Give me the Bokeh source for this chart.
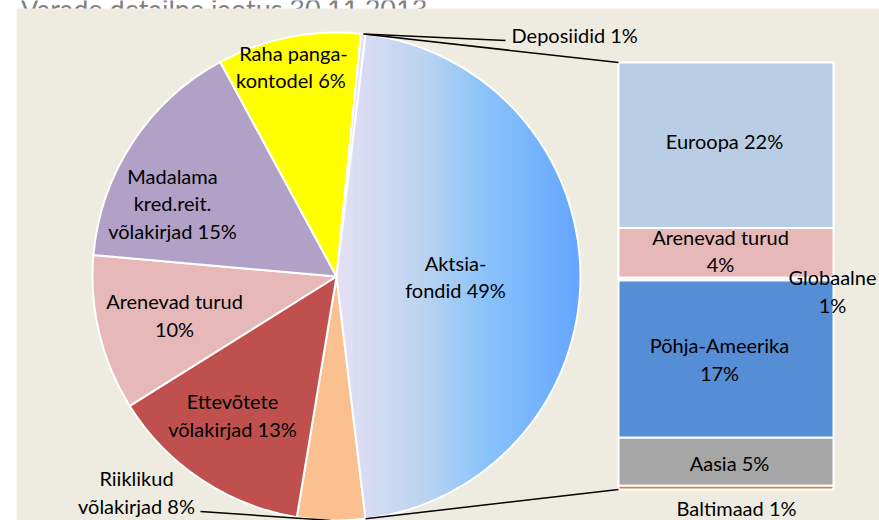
import numpy as np
from bokeh.plotting import figure
from bokeh.models import Range1d, ColumnDataSource
from bokeh.core.properties import value
from bokeh.embed import file_html
from bokeh.resources import INLINE

# ---------------- data ----------------
title_text = "Varade detailne jaotus 30.11.2013"

# main pie, clockwise, starting with the slice that is split into the bar
main_names = ["Aktsiafondid", "Riiklikud võlakirjad", "Ettevõtete võlakirjad",
              "Arenevad turud", "Madalama kred.reit. võlakirjad",
              "Raha pangakontodel", "Deposiidid"]
main_shares = [46.2, 4.5, 13.5, 10.3, 15.7, 9.5, 0.3]   # share of the circle, %
main_labels = ["Aktsia-\nfondid 49%", "Riiklikud\nvõlakirjad 8%",
               "Ettevõtete\nvõlakirjad 13%", "Arenevad turud\n10%",
               "Madalama\nkred.reit.\nvõlakirjad 15%", "Raha panga-\nkontodel  6%",
               "Deposiidid 1%"]
main_colors = ["#9CC8F8", "#FAC090", "#C0504D", "#E6B9B8", "#B2A1C7", "#FFFF00", "#E4DFF3"]

# secondary bar (breakdown of Aktsiafondid), top to bottom
sub_names = ["Euroopa", "Arenevad turud", "Globaalne", "Põhja-Ameerika", "Aasia", "Baltimaad"]
sub_shares = [17.9, 5.4, 0.3, 17.0, 5.2, 0.4]
sub_labels = ["Euroopa 22%", "Arenevad turud\n4%", "Globaalne\n1%",
              "Põhja-Ameerika\n17%", "Aasia 5%", "Baltimaad 1%"]
sub_colors = ["#B9CDE5", "#E6B9B8", "#EEF2F8", "#558ED5", "#A6A6A6", "#D7823E"]

# ---------------- layout ----------------
W, H = 879, 520
CX, CY, R = 336, H - 276, 244          # pie centre / radius
BAR_L, BAR_R, BAR_TOP, BAR_H = 618, 833, H - 62, 427
FONT = "Lato"
FSIZE = "20px"
LH = 1.13
BG = "#EEECE1"

def sy(y):  # screen y -> data y
    return H - y

# label anchors (screen coords)
main_label_pos = [(455, 276), (136, 491.5), (232, 414.5), (174, 314.5),
                  (172, 203), (293, 66), (511, 34)]
sub_label_pos = [(724, 140), (720, 250), (832, 290.5), (719, 358.5),
                 (729, 462), (736, 507)]

p = figure(width=W, height=H, x_range=Range1d(0, W), y_range=Range1d(0, H),
           output_backend="svg", toolbar_location=None, min_border=0,
           margin=(0, 0, 0, 0))
p.axis.visible = False
p.grid.visible = False
p.outline_line_color = None
p.background_fill_color = "white"
p.border_fill_color = "white"

# title (mostly outside the visible slide)
p.text(x=[20], y=[sy(8)], text=[title_text], text_font=value(FONT),
       text_font_size="27px", text_color="#7F7F7F", text_baseline="alphabetic")

# slide background
p.quad(left=[16], right=[W], bottom=[0], top=[sy(8)], fill_color=BG, line_color=None)

# ---------------- pie ----------------
shares = np.array(main_shares, dtype=float)
deg = shares / shares.sum() * 360.0
theta_start = 90.0 - deg[0] / 2.0
ts = theta_start + np.concatenate([[0], np.cumsum(deg)[:-1]])   # clockwise from 12 o'clock
te = ts + deg
start_ang = np.radians(90.0 - te)
end_ang = np.radians(90.0 - ts)

src = ColumnDataSource(dict(start=start_ang[1:], end=end_ang[1:], color=main_colors[1:]))
p.wedge(x=CX, y=CY, radius=R, start_angle="start", end_angle="end",
        fill_color="color", line_color="white", line_width=2, source=src)

# gradient-filled first slice, made of vertical strips
a = np.linspace(start_ang[0], end_ang[0], 240)
poly = [(CX, CY)] + [(CX + R * np.cos(t), CY + R * np.sin(t)) for t in a]

def clip(poly, x0, keep_right):
    out = []
    n = len(poly)
    for i in range(n):
        p0, p1 = poly[i], poly[(i + 1) % n]
        in0 = p0[0] >= x0 if keep_right else p0[0] <= x0
        in1 = p1[0] >= x0 if keep_right else p1[0] <= x0
        if in0:
            out.append(p0)
        if in0 != in1:
            t = (x0 - p0[0]) / (p1[0] - p0[0])
            out.append((x0, p0[1] + t * (p1[1] - p0[1])))
    return out

stops_t = [0.0, 0.35, 0.6, 1.0]
stops_c = np.array([[230, 224, 244], [188, 212, 240], [140, 196, 250], [100, 166, 255]])
xmin = min(pt[0] for pt in poly)
xmax = max(pt[0] for pt in poly)
nstrip = 90
edges = np.linspace(xmin, xmax, nstrip + 1)
xs, ys, cols = [], [], []
for i in range(nstrip):
    q = clip(clip(poly, edges[i], True), edges[i + 1], False)
    if len(q) < 3:
        continue
    t = (edges[i] + edges[i + 1]) / 2
    t = (t - xmin) / (xmax - xmin)
    c = [int(round(np.interp(t, stops_t, stops_c[:, k]))) for k in range(3)]
    xs.append([pt[0] for pt in q])
    ys.append([pt[1] for pt in q])
    cols.append("#%02x%02x%02x" % tuple(c))
p.patches(xs=xs, ys=ys, fill_color=cols, line_color=cols, line_width=1)
p.wedge(x=CX, y=CY, radius=R, start_angle=start_ang[0], end_angle=end_ang[0],
        fill_color=None, line_color="white", line_width=2)

# ---------------- secondary bar ----------------
sub = np.array(sub_shares, dtype=float)
scale = BAR_H / sub.sum()
tops = BAR_TOP - np.concatenate([[0], np.cumsum(sub)[:-1]]) * scale
bots = BAR_TOP - np.cumsum(sub) * scale
p.quad(left=BAR_L, right=BAR_R, top=tops, bottom=bots, fill_color=sub_colors,
       line_color="white", line_width=2)

# connector lines pie -> bar
top_pt = (CX + R * np.sin(np.radians(ts[0])), CY + R * np.cos(np.radians(ts[0])))
bot_pt = (CX + R * np.sin(np.radians(te[0])), CY + R * np.cos(np.radians(te[0])))
p.line(x=[top_pt[0], BAR_L], y=[top_pt[1], BAR_TOP], line_color="black", line_width=1.5)
p.line(x=[bot_pt[0], BAR_L], y=[bot_pt[1], bots[-1]], line_color="black", line_width=1.5)

# leader lines for outside labels
mid = (ts + te) / 2
dep_pt = (CX + R * np.sin(np.radians(mid[6])), CY + R * np.cos(np.radians(mid[6])))
p.line(x=[dep_pt[0], 505], y=[dep_pt[1], sy(40)], line_color="black", line_width=1.5)
rii_pt = (CX + R * np.sin(np.radians(mid[1])), CY + R * np.cos(np.radians(mid[1])))
p.line(x=[200, rii_pt[0]], y=[sy(511), rii_pt[1]], line_color="black", line_width=1.5)

# ---------------- labels ----------------
inside = [0, 1, 2, 3, 4, 5]
p.text(x=[main_label_pos[i][0] for i in inside], y=[sy(main_label_pos[i][1]) for i in inside],
       text=[main_labels[i] for i in inside], text_font=value(FONT), text_font_size=FSIZE,
       text_color="black", text_align="center", text_baseline="middle", text_line_height=LH)
p.text(x=[main_label_pos[6][0]], y=[sy(main_label_pos[6][1])], text=[main_labels[6]],
       text_font=value(FONT), text_font_size=FSIZE, text_color="black",
       text_align="left", text_baseline="middle")
p.text(x=[q[0] for q in sub_label_pos], y=[sy(q[1]) for q in sub_label_pos],
       text=sub_labels, text_font=value(FONT), text_font_size=FSIZE, text_color="black",
       text_align="center", text_baseline="middle", text_line_height=LH)

open("out.html", "w").write(file_html(p, INLINE))
